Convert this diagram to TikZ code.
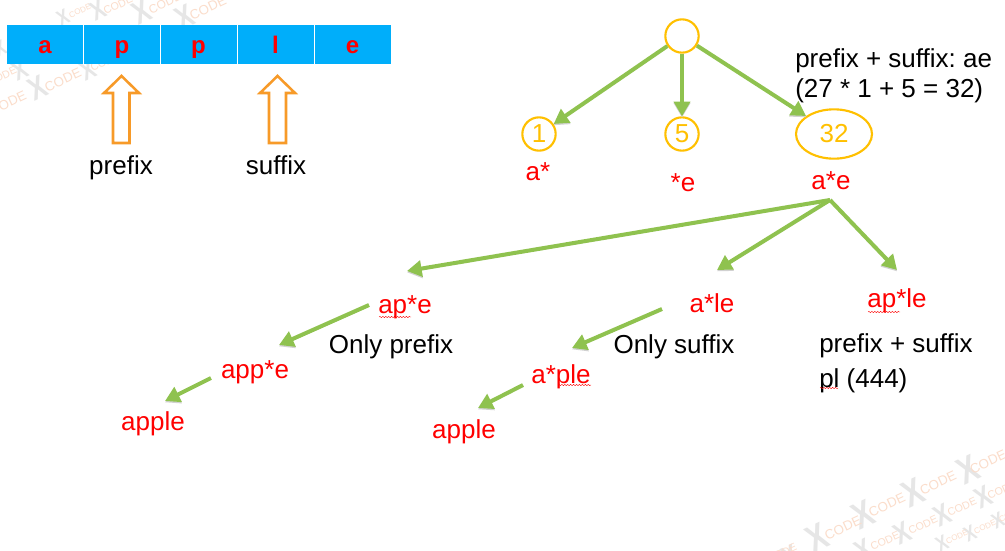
\documentclass[tikz,border=0pt]{standalone}
\usepackage{fontspec}
\setmainfont{Liberation Sans}
\frenchspacing
\usetikzlibrary{arrows.meta,decorations.pathmorphing,shapes.geometric}
\definecolor{cellblue}{HTML}{00AEFA}
\definecolor{treegreen}{HTML}{8FC24F}
\definecolor{nodeyellow}{HTML}{FFC000}
\definecolor{blockorange}{HTML}{F79A28}
\definecolor{wmgray}{HTML}{E6E6E6}
\definecolor{wmorange}{HTML}{FBDDCB}
\tikzset{
  x=0.75pt,y=-0.75pt,
  cellbox/.style={fill=cellblue,draw=none,minimum width=57pt,minimum height=29.25pt,inner sep=0pt,text height=14pt,text depth=0pt,text=red,font=\fontsize{18}{20}\selectfont\bfseries},
  blockarrow/.style={draw=blockorange,line width=1.9pt,fill=white,miter limit=10},
  treenode/.style={draw=nodeyellow,line width=1.6pt,circle,minimum size=25pt,inner sep=0pt,text=nodeyellow,font=\fontsize{19.5}{22}\selectfont},
  ovalnode/.style={draw=nodeyellow,line width=1.6pt,ellipse,minimum width=57pt,minimum height=37pt,inner sep=0pt,text=nodeyellow,font=\fontsize{19.5}{22}\selectfont},
  redlabel/.style={anchor=base,inner sep=0pt,text=red,font=\fontsize{19.5}{22}\selectfont},
  blacklabel/.style={anchor=base,inner sep=0pt,text=black,font=\fontsize{19.5}{22}\selectfont},
  leftlabel/.style={anchor=base west,inner sep=0pt,text=black,font=\fontsize{19.5}{22}\selectfont},
  treeedge/.style={draw=treegreen,line width=3pt,-{Triangle[length=11pt,width=12pt]},
    preaction={draw=black!18,transform canvas={yshift=-1pt}}},
  squiggle/.style={draw=red,line width=0.3pt,decorate,decoration={snake,amplitude=0.5pt,segment length=2.2pt}},
  wmx/.style={inner sep=0pt,rotate=25,xscale=0.8,text=wmgray},
  wmc/.style={inner sep=0pt,rotate=25,text=wmorange}
}
\begin{document}
\begin{tikzpicture}
\useasboundingbox (0,0) rectangle (1005,550);
\fill[white] (0,0) rectangle (1005,550);
% watermark
\foreach \i/\xa/\ya/\xb/\yb/\s/\c in {
 1/63/17/80/11/16/6, 2/98/10/118/5/20/8, 3/142/12/165/3/24/9, 4/185/17/208/8/24/10,
 5/38/88/63/80/24/10, 6/88/70/105/62/20/8, 7/20/70/2/76/20/8, 8/0/48/-15/55/16/7,
 9/-16/112/8/103/24/10,
 10/968/470/988/462/28/10, 11/913/493/938/483/28/10, 12/863/515/887/505/28/10, 13/817/538/843/528/28/10,
 14/983/497/1002/490/22/8, 15/942/515/962/507/22/8, 16/902/533/923/525/22/8, 17/863/550/885/541/22/8,
 18/998/520/1010/515/16/6, 19/970/533/985/527/16/6, 20/942/543/957/537/16/6, 21/790/556/782/553/22/8}
{
  \node[wmx,font=\fontsize{\s}{\s}\selectfont\bfseries] (wmx\i) at (\xa,\ya) {X};
  \node[wmc,font=\fontsize{\c}{\s}\selectfont] (wmc\i) at (\xb,\yb) {CODE};
}
% cells
\node[cellbox] (c1) at (45,44.5) {a};
\node[cellbox] (c2) at (122,44.5) {p};
\node[cellbox] (c3) at (198.5,44.5) {p};
\node[cellbox] (c4) at (275.5,44.5) {l};
\node[cellbox] (c5) at (352.5,44.5) {e};
% block arrows
\draw[blockarrow] (121.5,76) -- (139,93) -- (129.5,93) -- (129.5,143) -- (113,143) -- (113,93) -- (104,93) -- cycle;
\draw[blockarrow] (277.5,76) -- (295,93) -- (286,93) -- (286,143) -- (269,143) -- (269,93) -- (260,93) -- cycle;
\node[blacklabel] (lp) at (121,174) {prefix};
\node[blacklabel] (ls) at (276,174) {suffix};
% top tree
\node[treenode] (root) at (682,36) {};
\node[treenode] (n1) at (539,134) {1};
\node[treenode] (n5) at (682,134) {5};
\node[ovalnode] (n32) at (834,134) {32};
\draw[treeedge] (root) -- (n1);
\draw[treeedge] (root) -- (n5);
\draw[treeedge] (root) -- (n32);
\node[leftlabel] (t1) at (795,67) {prefix + suffix: ae};
\node[leftlabel] (t2) at (795,97) {(27 * 1 + 5 = 32)};
\node[redlabel] (la) at (538,180) {a*};
\node[redlabel] (le) at (683,191) {*e};
\node[redlabel] (lae) at (831,189) {a*e};
% lower labels
\node[redlabel] (ape) at (405,313) {ap*e};
\node[redlabel] (ale) at (712,312) {a*le};
\node[redlabel] (aple) at (897,307) {ap*le};
\node[blacklabel] (op) at (391,353) {Only prefix};
\node[blacklabel] (os) at (674,353) {Only suffix};
\node[leftlabel] (ps) at (819,352) {prefix + suffix};
\node[leftlabel] (pl) at (819,387) {pl (444)};
\node[redlabel] (appe) at (255,378) {app*e};
\node[redlabel] (apple1) at (153,430) {apple};
\node[redlabel] (asple) at (561,383) {a*ple};
\node[redlabel] (apple2) at (464,438) {apple};
% squiggles
\coordinate (q1a) at (379,317); \coordinate (q1b) at (411,317);
\coordinate (q2a) at (558,385); \coordinate (q2b) at (591,385);
\coordinate (q3a) at (868,312); \coordinate (q3b) at (900,312);
\coordinate (q4a) at (820,388); \coordinate (q4b) at (838,388);
\draw[squiggle] (q1a) -- (q1b);
\draw[squiggle] (q2a) -- (q2b);
\draw[squiggle] (q3a) -- (q3b);
\draw[squiggle] (q4a) -- (q4b);
% lower edges
\coordinate (fork) at (830,200);
\coordinate (e1) at (407,271);
\coordinate (e2) at (717,270);
\coordinate (e3) at (897,270);
\draw[treeedge] (fork) -- (e1);
\draw[treeedge] (fork) -- (e2);
\draw[treeedge] (fork) -- (e3);
\coordinate (s1) at (369,305); \coordinate (f1) at (279,345);
\coordinate (s2) at (662,309); \coordinate (f2) at (572,348);
\coordinate (s3) at (211,378); \coordinate (f3) at (165,401);
\coordinate (s4) at (523,385); \coordinate (f4) at (478,408);
\draw[treeedge] (s1) -- (f1);
\draw[treeedge] (s2) -- (f2);
\draw[treeedge] (s3) -- (f3);
\draw[treeedge] (s4) -- (f4);
\end{tikzpicture}
\end{document}
